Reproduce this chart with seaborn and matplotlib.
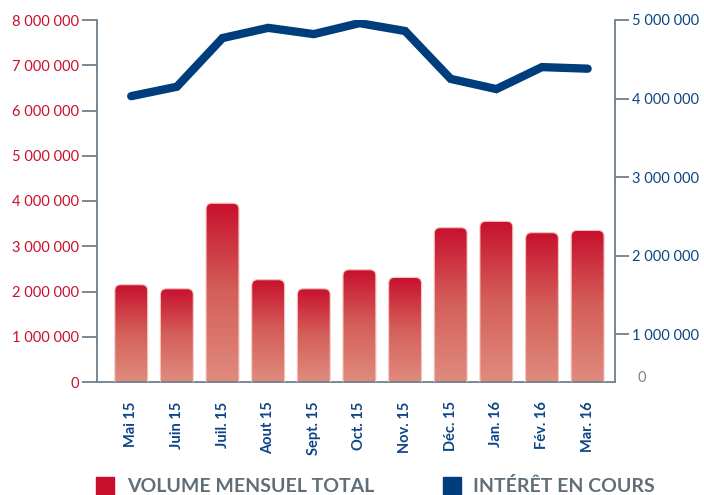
import numpy as np
import matplotlib
matplotlib.use('Agg')
import matplotlib.pyplot as plt
from matplotlib.patches import FancyBboxPatch, Rectangle
from matplotlib.colors import LinearSegmentedColormap
import seaborn as sns

sns.set_style('white')
plt.rcParams['font.family'] = ['Lato', 'DejaVu Sans']

# data
months = ['Mai 15', 'Juin 15', 'Juil. 15', 'Aout 15', 'Sept. 15', 'Oct. 15',
          'Nov. 15', 'Déc. 15', 'Jan. 16', 'Fév. 16', 'Mar. 16']
volume = [2150000, 2060000, 3950000, 2260000, 2060000, 2480000,
          2310000, 3410000, 3550000, 3300000, 3350000]
interest = [4030000, 4150000, 4770000, 4900000, 4820000, 4960000,
            4860000, 4250000, 4120000, 4400000, 4380000]
left_ticks = [0, 1000000, 2000000, 3000000, 4000000, 5000000, 6000000, 7000000, 8000000]
right_ticks = [1000000, 2000000, 3000000, 4000000, 5000000]

red = '#c8102e'
light = '#e08b7e'
blue = '#003d7c'
tick_blue = '#0d4485'
spine_col = '#6e7f8a'
grey_txt = '#5f6e78'

def fmt(v):
    return f"{v:,}".replace(',', ' ')

fig = plt.figure(figsize=(7.04, 4.95), dpi=100)
ax = fig.add_axes([97 / 704, 113 / 495, 518 / 704, 362 / 495])

sns.barplot(x=months, y=volume, ax=ax, width=0.72, color=red)

# gradient, rounded-top bars built on the seaborn bar geometry
cmap = LinearSegmentedColormap.from_list('bar', [light, '#d4605a', red])
grad = np.linspace(0, 1, 256).reshape(-1, 1)
for p in list(ax.patches):
    x0, w, h = p.get_x(), p.get_width(), p.get_height()
    p.set_visible(False)
    box = FancyBboxPatch((x0, -400000), w, h + 400000,
                         boxstyle='round,pad=0,rounding_size=0.13',
                         mutation_aspect=1.008e6, fc='none',
                         ec='#f2c4be', lw=0.8, zorder=3)
    ax.add_patch(box)
    im = ax.imshow(grad, extent=(x0, x0 + w, 0, h), origin='lower',
                   aspect='auto', cmap=cmap, zorder=2)
    im.set_clip_path(box)

ax.set_xlim(-0.75, 10.6)
ax.set_ylim(0, 8000000)
ax.set_yticks(left_ticks)
ax.set_yticklabels([fmt(v) for v in left_ticks])
ax.set_xlabel('')
ax.set_ylabel('')
for s in ['top', 'right']:
    ax.spines[s].set_visible(False)
for s in ['left', 'bottom']:
    ax.spines[s].set_color(spine_col)
    ax.spines[s].set_linewidth(1.3)
ax.tick_params(axis='y', length=11, width=1.3, color=spine_col,
               labelcolor=red, labelsize=10.5, pad=2)
ax.yaxis.get_major_ticks()[0].tick1line.set_visible(False)
ax.tick_params(axis='x', length=0, labelrotation=90, labelcolor=tick_blue,
               labelsize=10.5, pad=14)
for lbl in ax.get_xticklabels():
    lbl.set_fontweight('bold')

# line on the right axis
ax2 = ax.twinx()
sns.lineplot(x=months, y=interest, ax=ax2, color=blue, lw=6, sort=False)
for ln in ax2.lines:
    ln.set_solid_capstyle('round')
    ln.set_solid_joinstyle('miter')
ax2.set_ylim(389000, 5000000)
ax2.set_yticks(right_ticks)
ax2.set_yticklabels([fmt(v) for v in right_ticks])
ax2.set_xlim(-0.75, 10.6)
ax2.set_xlabel('')
ax2.set_ylabel('')
for s in ['top', 'left', 'bottom']:
    ax2.spines[s].set_visible(False)
ax2.spines['right'].set_color(spine_col)
ax2.spines['right'].set_linewidth(1.3)
ax2.tick_params(axis='y', length=10, width=1.3, color=spine_col,
                labelcolor=tick_blue, labelsize=10.5, pad=2)
ax2.annotate('0', xy=(1, 0), xycoords='axes fraction', xytext=(16, 3),
             textcoords='offset points', ha='left', va='center',
             color='#7a8790', fontsize=10.5)

# legend
fig.patches.append(Rectangle((96 / 704, 0), 18 / 704, 18 / 495,
                             transform=fig.transFigure, color=red))
fig.text(127 / 704, 9 / 495, 'VOLUME MENSUEL TOTAL', color=grey_txt,
         fontsize=14, fontweight='bold', va='center', ha='left')
fig.patches.append(Rectangle((443 / 704, 0), 18 / 704, 18 / 495,
                             transform=fig.transFigure, color=blue))
fig.text(473 / 704, 9 / 495, 'INTÉRÊT EN COURS', color=grey_txt,
         fontsize=14, fontweight='bold', va='center', ha='left')

fig.savefig('out.png', dpi=100)
